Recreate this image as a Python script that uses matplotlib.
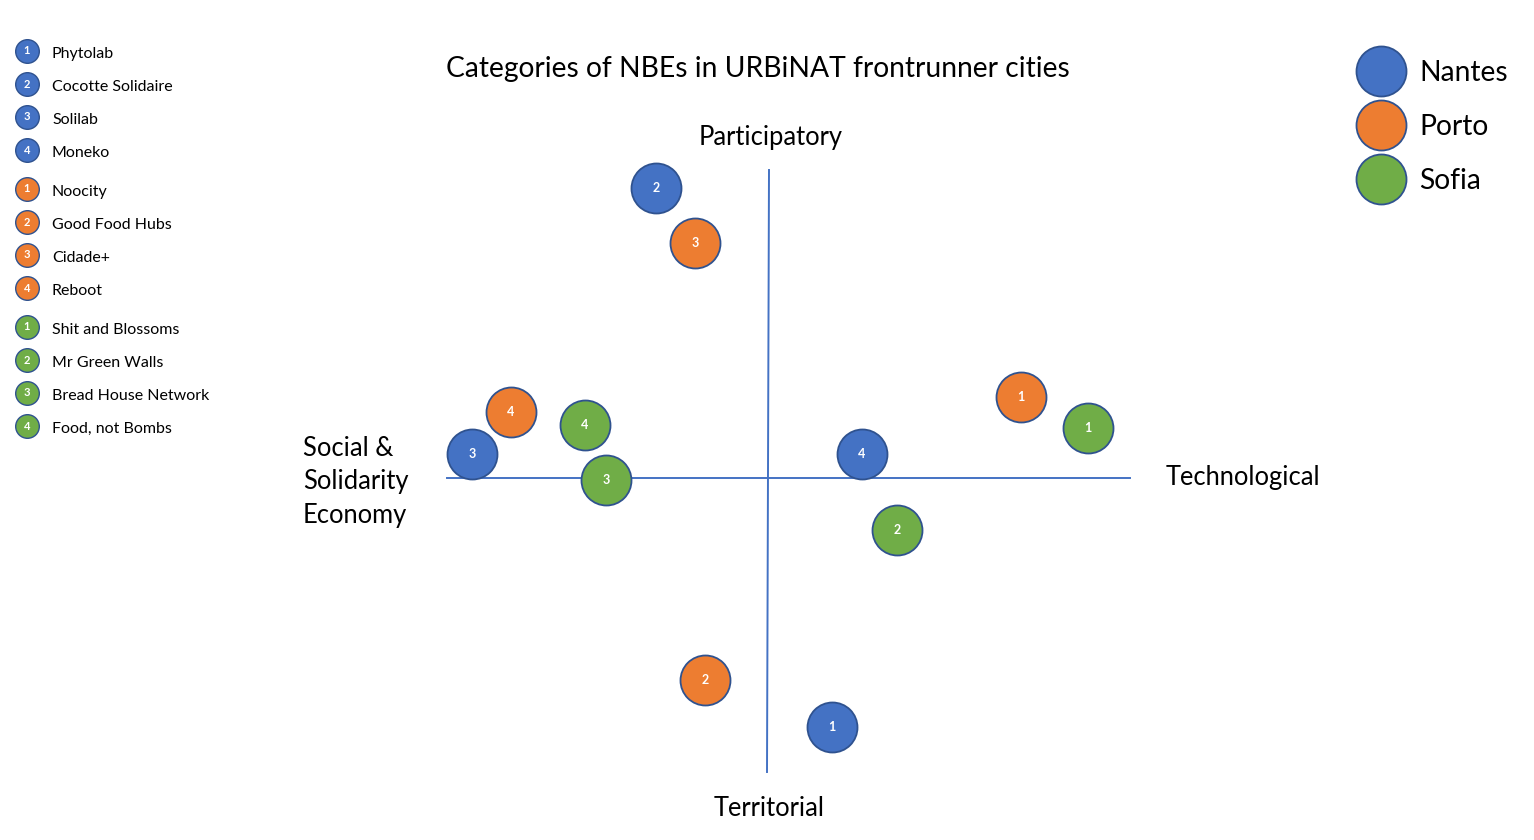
import matplotlib
matplotlib.use("Agg")
import matplotlib.pyplot as plt

plt.rcParams['font.family'] = ['Lato', 'DejaVu Sans']

# cities and their NBEs
cities = ["Nantes", "Porto", "Sofia"]
city_colors = ["#4472C4", "#ED7D31", "#70AD47"]
nbe_names = [
    ["Phytolab", "Cocotte Solidaire", "Solilab", "Moneko"],
    ["Noocity", "Good Food Hubs", "Cidade+", "Reboot"],
    ["Shit and Blossoms", "Mr Green Walls", "Bread House Network", "Food, not Bombs"],
]
# position on the map: x = social/solidarity (-) .. technological (+),
# y = territorial (-) .. participatory (+)
nbe_x = [
    [64, -112, -296, 94],
    [253, -63, -73, -257],
    [320, 129, -162, -183],
]
nbe_y = [
    [-249, 290, 24, 24],
    [81, -202, 235, 66],
    [50, -52, -2, 53],
]

title = "Categories of NBEs in URBiNAT frontrunner cities"
edge = "#2F528F"

W, H = 1534, 840
cx, cy = 768, 478  # pixel location of the cross centre

fig = plt.figure(figsize=(W / 100, H / 100), dpi=100)
ax = fig.add_axes([0, 0, 1, 1])
ax.set_xlim(-cx, W - cx)
ax.set_ylim(-(H - cy), cy)
ax.axis("off")


def px(x, y):
    """ pixel position (from top-left) -> data coords """
    return x - cx, cy - y


# axes cross
ax.plot([-321, 362], [0, 0], color="#4472C4", lw=1.4, zorder=1)
ax.plot([1, -1], [308, -294], color="#4472C4", lw=1.4, zorder=1)

# NBE markers
for ci, col in enumerate(city_colors):
    for k, (x, y) in enumerate(zip(nbe_x[ci], nbe_y[ci])):
        ax.plot(x, y, "o", ms=36, mfc=col, mec=edge, mew=1.3, zorder=3)
        ax.text(x, y, str(k + 1), color="white", fontsize=9, fontweight="bold",
                ha="center", va="center", zorder=4)

# quadrant labels
lab = dict(fontsize=18.4, va="center")
ax.text(*px(771, 137), "Participatory", ha="center", **lab)
ax.text(*px(769, 808), "Territorial", ha="center", **lab)
ax.text(*px(1166, 477), "Technological", ha="left", **lab)
ax.text(*px(303, 482), "Social &\nSolidarity\nEconomy", ha="left",
        linespacing=1.45, **lab)

ax.text(*px(758, 69), title, fontsize=20.3, ha="center", va="center")

# left legend with numbered NBEs
row = 51
for ci, col in enumerate(city_colors):
    for k, name in enumerate(nbe_names[ci]):
        ax.plot(*px(27, row), "o", ms=17, mfc=col, mec=edge, mew=1.0)
        ax.text(*px(27, row), str(k + 1), color="white", fontsize=8,
                fontweight="bold", ha="center", va="center")
        ax.text(*px(52, row + 3), name, fontsize=11.5, ha="left", va="center")
        row += 33
    row += 6

# city legend
for i, (city, col) in enumerate(zip(cities, city_colors)):
    y = 71 + i * 54
    ax.plot(*px(1381, y), "o", ms=36, mfc=col, mec=edge, mew=1.3)
    ax.text(*px(1419, y + 2), city, fontsize=20.3, ha="left", va="center")

fig.savefig("out.png", dpi=100)
